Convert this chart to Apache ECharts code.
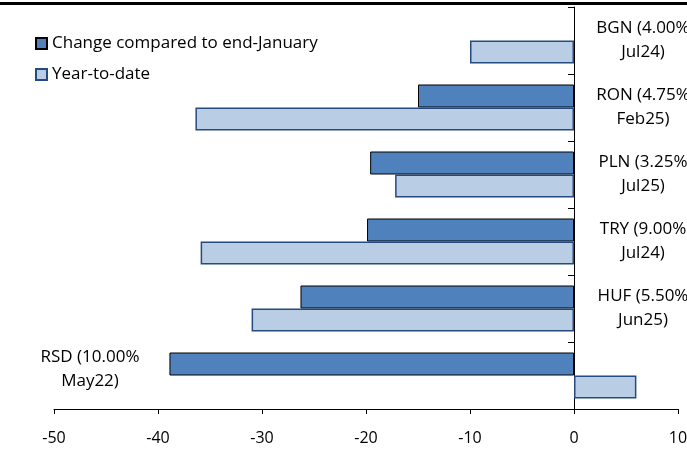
<!DOCTYPE html>
<html>
<head>
<meta charset="utf-8">
<script src="https://cdn.jsdelivr.net/npm/echarts@6/dist/echarts.min.js"></script>
<style>
  html, body { margin: 0; padding: 0; background: #fff; }
  #chart { width: 687px; height: 452px; }
</style>
</head>
<body>
<div id="chart"></div>
<script>
// currencies, policy rate and date of last move
const categories = ['BGN', 'RON', 'PLN', 'TRY', 'HUF', 'RSD']
const rates = ['4.00%', '4.75%', '3.25%', '9.00%', '5.50%', '10.00%']
const since = ['Jul24', 'Feb25', 'Jul25', 'Jul24', 'Jun25', 'May22']
const changeSinceJan = [null, -15.0, -19.6, -19.9, -26.3, -38.9]
const yearToDate = [-10.0, -36.4, -17.2, -35.9, -31.0, 6.0]
const xTicks = { min: -50, max: 10, interval: 10 }

const font = 'Open Sans'
const labelFor = i => categories[i] + ' (' + rates[i] + '\n' + since[i] + ')'

const chart = echarts.init(document.getElementById('chart'))

// shared style for the category labels
const catLabel = {
  inside: true,
  align: 'center',
  fontSize: 17,
  lineHeight: 24,
  color: '#000',
  fontFamily: font
}

const option = {
  animation: false,
  textStyle: { fontFamily: font },
  graphic: [
    { type: 'rect', left: 0, top: 2, shape: { width: 687, height: 3 }, style: { fill: '#000' } }
  ],
  legend: {
    orient: 'vertical',
    left: 30,
    top: 30,
    icon: 'rect',
    itemWidth: 11,
    itemHeight: 11,
    itemGap: 14,
    textStyle: { fontFamily: font, fontSize: 17, color: '#000' },
    data: ['Change compared to end-January', 'Year-to-date']
  },
  grid: { left: 54, right: 9, top: 7, bottom: 43, containLabel: false, outerBoundsMode: 'none' },
  xAxis: {
    type: 'value',
    min: xTicks.min,
    max: xTicks.max,
    interval: xTicks.interval,
    axisLine: { show: true, onZero: false, lineStyle: { color: '#000', width: 1 } },
    axisTick: { show: true, length: 5, lineStyle: { color: '#000' } },
    axisLabel: { color: '#000', fontSize: 16, fontFamily: font, margin: 21 },
    splitLine: { show: false }
  },
  yAxis: [
    {
      // the zero line with its ticks
      type: 'category',
      data: categories,
      inverse: true,
      axisLine: { show: true, onZero: true, lineStyle: { color: '#000', width: 1 } },
      axisTick: { show: true, length: 6, inside: false, lineStyle: { color: '#000' } },
      axisLabel: { show: false }
    },
    {
      // labels to the right of zero
      type: 'category',
      data: categories,
      inverse: true,
      position: 'right',
      axisLine: { show: false, onZero: false },
      axisTick: { show: false },
      axisLabel: Object.assign({}, catLabel, {
        margin: 35,
        formatter: (v, i) => (v === 'RSD' ? '' : labelFor(i))
      })
    },
    {
      // RSD label sits on the left, a little above the row centre
      type: 'category',
      data: categories,
      inverse: true,
      position: 'left',
      axisLine: { show: false, onZero: false },
      axisTick: { show: false },
      axisLabel: Object.assign({}, catLabel, {
        margin: 36,
        formatter: (v, i) => {
          if (v !== 'RSD') return ''
          return '{t|' + categories[i] + ' (' + rates[i] + '}\n{t|' + since[i] + ')}\n{s| }'
        },
        rich: {
          t: { fontSize: 17, lineHeight: 24, fontFamily: font, color: '#000' },
          s: { fontSize: 2, lineHeight: 12 }
        }
      })
    }
  ],
  series: [
    {
      name: 'Change compared to end-January',
      type: 'bar',
      data: changeSinceJan,
      barWidth: 23,
      barGap: '0%',
      itemStyle: { color: '#4f81bd', borderColor: '#000', borderWidth: 1 }
    },
    {
      name: 'Year-to-date',
      type: 'bar',
      data: yearToDate,
      barWidth: 23,
      barGap: '0%',
      itemStyle: { color: '#b9cde5', borderColor: '#254a80', borderWidth: 1.5 }
    }
  ]
}

chart.setOption(option)
</script>
</body>
</html>
